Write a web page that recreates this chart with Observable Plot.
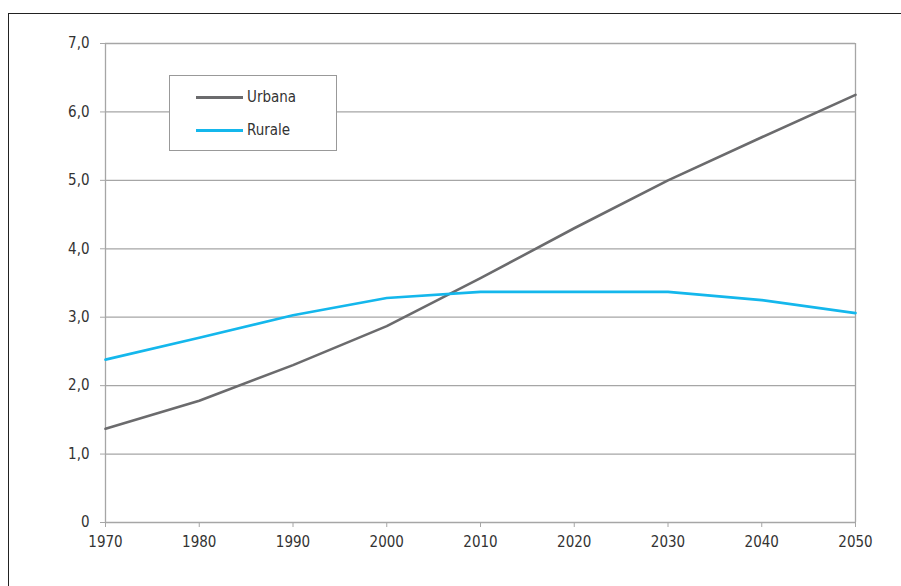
<!DOCTYPE html>
<html>
<head>
<meta charset="utf-8">
<script src="https://cdn.jsdelivr.net/npm/d3@7"></script>
<script src="https://cdn.jsdelivr.net/npm/@observablehq/plot@0.6"></script>
<style>
  html, body { margin: 0; padding: 0; background: #fff; }
  #wrap { position: relative; width: 901px; height: 586px; overflow: hidden; }
  #frame { position: absolute; left: 8px; top: 13px; width: 1000px; height: 1000px;
           border-top: 1.5px solid #222; border-left: 1.5px solid #222; }
  #legend { position: absolute; left: 169px; top: 75px; width: 168px; height: 76px;
            background: #fff; border: 1px solid #999; box-sizing: border-box;
            font-family: "DejaVu Sans Condensed", sans-serif; font-stretch: condensed; font-size: 15px; color: #333; }
  .item { position: absolute; left: 26px; display: flex; align-items: center; }
  .sw { width: 47px; height: 3px; margin-right: 4px; }
  svg { position: absolute; left: 0; top: 0; }
</style>
</head>
<body>
<div id="wrap">
  <div id="frame"></div>
</div>
<script>
const years = [1970, 1980, 1990, 2000, 2010, 2020, 2030, 2040, 2050];
const urbana = [1.37, 1.78, 2.30, 2.87, 3.57, 4.30, 5.00, 5.63, 6.25];
const rurale = [2.38, 2.70, 3.03, 3.28, 3.37, 3.37, 3.37, 3.25, 3.06];
const seriesNames = ["Urbana", "Rurale"];
const seriesColors = ["#6b6b6d", "#14b7ec"];
const yTicks = [0, 1, 2, 3, 4, 5, 6, 7];

const data = [];
years.forEach((y, i) => {
  data.push({year: y, value: urbana[i], serie: seriesNames[0]});
  data.push({year: y, value: rurale[i], serie: seriesNames[1]});
});

const fmtY = d => d === 0 ? "0" : d.toFixed(1).replace(".", ",");

const chart = Plot.plot({
  width: 901,
  height: 586,
  marginLeft: 105,
  marginRight: 46,
  marginTop: 43,
  marginBottom: 64,
  style: {fontFamily: '"DejaVu Sans Condensed", sans-serif', fontStretch: "condensed", fontSize: "15px", color: "#333", background: "transparent"},
  x: {domain: [1970, 2050], ticks: years, tickFormat: d => String(d)},
  y: {domain: [0, 7], ticks: yTicks, tickFormat: fmtY},
  color: {domain: seriesNames, range: seriesColors},
  marks: [
    Plot.gridY(yTicks.filter(d => d > 0), {stroke: "#a6a6a6", strokeOpacity: 1, strokeWidth: 1.3}),
    Plot.ruleX([2050], {y1: 0, y2: 7, stroke: "#a6a6a6", strokeWidth: 1.3}),
    Plot.ruleX([1970], {y1: 0, y2: 7, stroke: "#a6a6a6", strokeWidth: 1.3}),
    Plot.ruleY([0], {stroke: "#a6a6a6", strokeWidth: 1.3}),
    Plot.axisY({ticks: yTicks, tickFormat: fmtY, tickSize: 5, tickPadding: 11, stroke: "#a6a6a6", label: null, fill: "#333"}),
    Plot.axisX({ticks: years, tickFormat: d => String(d), tickSize: 5, tickPadding: 9, stroke: "#a6a6a6", label: null, fill: "#333"}),
    Plot.line(data, {x: "year", y: "value", stroke: "serie", z: "serie", strokeWidth: 2.6})
  ]
});
document.getElementById("wrap").appendChild(chart);

const legend = document.createElement("div");
legend.id = "legend";
seriesNames.forEach((n, i) => {
  const it = document.createElement("div");
  it.className = "item";
  it.style.top = (i === 0 ? 12 : 45) + "px";
  const sw = document.createElement("div");
  sw.className = "sw";
  sw.style.background = seriesColors[i];
  const lab = document.createElement("span");
  lab.textContent = n;
  it.appendChild(sw);
  it.appendChild(lab);
  legend.appendChild(it);
});
document.getElementById("wrap").appendChild(legend);
</script>
</body>
</html>
